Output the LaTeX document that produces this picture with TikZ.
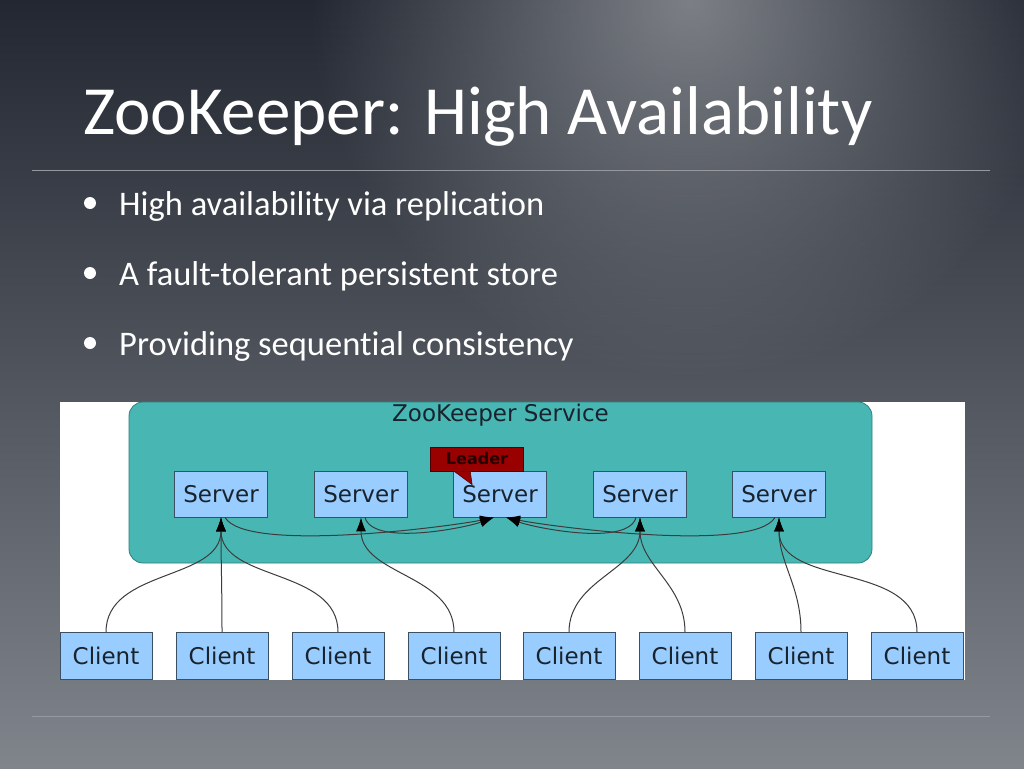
\documentclass[tikz,border=0pt]{standalone}
\usepackage{fontspec}
\setmainfont{Carlito}[Ligatures=NoCommon]
\newfontfamily\diagfont{DejaVu Sans}
\usetikzlibrary{arrows.meta,fadings}

\definecolor{bgtop}{RGB}{34,39,49}
\definecolor{bgmid}{RGB}{66,71,80}
\definecolor{bgbottom}{RGB}{128,132,139}
\definecolor{glow}{RGB}{140,143,149}
\definecolor{rulegray}{RGB}{150,154,160}
\definecolor{zkteal}{RGB}{72,183,180}
\definecolor{tealline}{RGB}{45,128,126}
\definecolor{boxfill}{RGB}{153,204,255}
\definecolor{boxline}{RGB}{60,80,100}
\definecolor{diagtext}{RGB}{25,35,45}
\definecolor{leaderred}{RGB}{153,0,0}
\definecolor{leaderline}{RGB}{80,0,0}
\definecolor{leadertext}{RGB}{40,0,0}
\definecolor{linkgray}{RGB}{60,60,60}

\tikzfading[name=glowfade, inner color=transparent!0, outer color=transparent!100]

\begin{document}
\begin{tikzpicture}[x=1pt,y=-1pt,
  srvbox/.style={draw=boxline, fill=boxfill, line width=0.8pt, minimum width=93pt, minimum height=46pt, inner sep=0pt, text=diagtext, font={\diagfont\fontsize{23}{25}\selectfont}},
  clbox/.style={srvbox, minimum width=92pt, minimum height=47pt},
  servicebox/.style={draw=tealline, fill=zkteal, line width=0.8pt, rounded corners=14pt, minimum width=743pt, minimum height=161pt},
  leaderbox/.style={draw=leaderline, fill=leaderred, line width=0.6pt, minimum width=93pt, minimum height=24pt, inner sep=0pt, text=leadertext, font={\diagfont\bfseries\fontsize{16}{18}\selectfont}},
  link/.style={draw=linkgray, line width=1pt, -{Latex[length=14pt,width=10pt,color=black]}},
  bullettext/.style={anchor=base west, inner sep=0pt, text=white, font={\fontsize{34.5}{40}\selectfont}}]

\useasboundingbox (0,0) rectangle (1024,768);
\shade[top color=bgtop, middle color=bgmid, bottom color=bgbottom] (0,0) rectangle (1024,768);
\fill[glow, path fading=glowfade, fill opacity=0.85] (690,0) circle (380pt);

\draw[rulegray, line width=0.8pt] (32,170) -- (990,170);
\draw[rulegray, line width=0.8pt] (32,716) -- (990,716);

\node[anchor=base west, inner sep=0pt, text=white, font={\fontsize{69}{80}\selectfont}] (title) at (83,134) {ZooKeeper: High Availability};

\foreach \txt [count=\i] in {High availability via replication, A fault-tolerant persistent store, Providing sequential consistency} {
  \fill[white] (90,{133+70*\i}) circle (6pt);
  \node[bullettext] (item\i) at (119,{145+70*\i}) {\txt};
}

\fill[white] (60,402) rectangle (965,680);
\node[servicebox] (service) at (500.5,482.5) {};
\node[anchor=north, inner sep=2pt, text=diagtext, font={\diagfont\fontsize{23}{25}\selectfont}] (svclabel) at (service.north) {ZooKeeper Service};

\foreach \x [count=\i] in {221,361,500,640,779}
  \node[srvbox] (srv\i) at (\x,494) {Server};
\foreach \x [count=\i] in {106,222,338,454,569,685,801,917}
  \node[clbox] (cl\i) at (\x,656) {Client};

\foreach \c/\s in {1/1,2/1,3/1,4/2,5/4,6/4,7/5,8/5}
  \draw[link] (cl\c.north) to[out=90,in=-90] (srv\s.south);

\draw[link] ([xshift=4pt]srv1.south) to[out=-60,in=-168,looseness=0.4] ([xshift=-6pt]srv3.south);
\draw[link] ([xshift=4pt]srv2.south) to[out=-75,in=-160,looseness=0.6] ([xshift=-6pt]srv3.south);
\draw[link] ([xshift=-4pt]srv4.south) to[out=-105,in=-20,looseness=0.6] ([xshift=6pt]srv3.south);
\draw[link] ([xshift=-4pt]srv5.south) to[out=-120,in=-12,looseness=0.4] ([xshift=6pt]srv3.south);

\node[leaderbox] (leader) at (477,459) {Leader};
\filldraw[fill=leaderred, draw=leaderline, line width=0.6pt] ([xshift=24pt]leader.south west) -- ([shift={(19,14)}]srv3.north west) -- ([xshift=40pt]leader.south west);
\end{tikzpicture}
\end{document}
